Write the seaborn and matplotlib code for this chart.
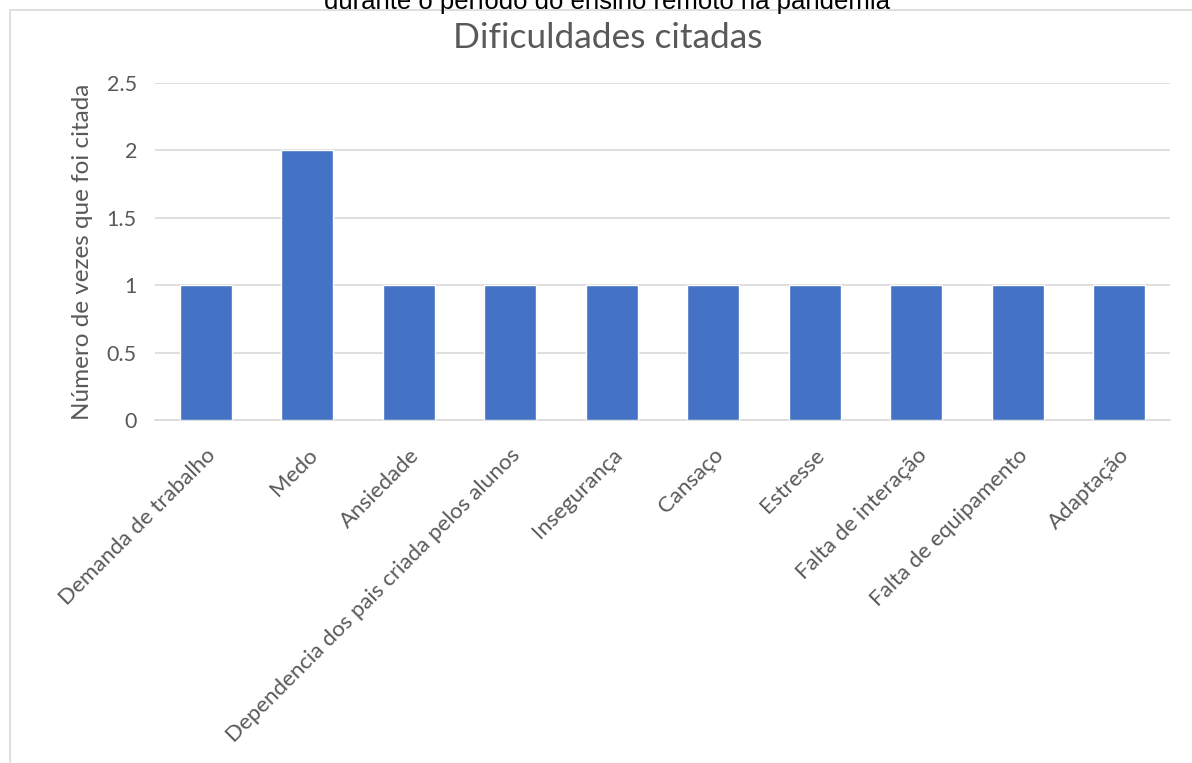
import matplotlib
matplotlib.use("Agg")
import matplotlib.pyplot as plt
import seaborn as sns
import pandas as pd
from matplotlib.patches import Rectangle
from matplotlib.ticker import FixedLocator, FuncFormatter

categories = ["Demanda de trabalho", "Medo", "Ansiedade",
              "Dependencia dos pais criada pelos alunos", "Insegurança",
              "Cansaço", "Estresse", "Falta de interação",
              "Falta de equipamento", "Adaptação"]
values = [1, 2, 1, 1, 1, 1, 1, 1, 1, 1]
yticks = [0, 0.5, 1, 1.5, 2, 2.5]

sns.set_theme(style="white")
plt.rcParams['font.family'] = ['Lato', 'DejaVu Sans']

df = pd.DataFrame({"cat": categories, "val": values})

fig = plt.figure(figsize=(11.92, 7.63), dpi=100)
ax = fig.add_axes([0.130, 0.4495, 0.8515, 0.4417])

sns.barplot(data=df, x="cat", y="val", color="#4472C4", width=0.51,
            saturation=1, ax=ax, zorder=3)

ax.set_xlim(-0.5, len(categories) - 0.5)
ax.set_ylim(0, 2.5)
ax.yaxis.set_major_locator(FixedLocator(yticks))
ax.yaxis.set_major_formatter(FuncFormatter(lambda v, p: f"{v:g}"))
ax.grid(axis="y", color="#D9D9D9", linewidth=1.2, zorder=0)
ax.set_axisbelow(True)
for s in ["top", "right", "left"]:
    ax.spines[s].set_visible(False)
ax.spines["bottom"].set_color("#D9D9D9")
ax.spines["bottom"].set_linewidth(1.2)

ax.tick_params(axis="y", length=0, pad=13, labelsize=15.5, labelcolor="#595959")
ax.tick_params(axis="x", length=0, pad=18, labelsize=16, labelcolor="#595959")
plt.setp(ax.get_xticklabels(), rotation=45, ha="right", rotation_mode="anchor")

ax.set_xlabel("")
ax.set_ylabel("Número de vezes que foi citada", fontsize=17.5, color="#595959",
              labelpad=10)

fig.text(608 / 1192, 1 - 38 / 763, "Dificuldades citadas", ha="center",
         va="center", fontsize=25.5, color="#595959")

# chart frame
fig.patches.append(Rectangle((10 / 1192, -0.01), 1.2, 1 - 10 / 763 + 0.01,
                             transform=fig.transFigure, fill=False,
                             edgecolor="#D9D9D9", linewidth=1.2))
# document text above chart (cut off at the top edge, as in the source page)
fig.text(607 / 1192, 1 - 9 / 763, "durante o período do ensino remoto na pandemia",
         ha="center", va="baseline", fontsize=18.5, color="black",
         family=["Liberation Sans", "DejaVu Sans"])

fig.savefig("out.png", dpi=100)
